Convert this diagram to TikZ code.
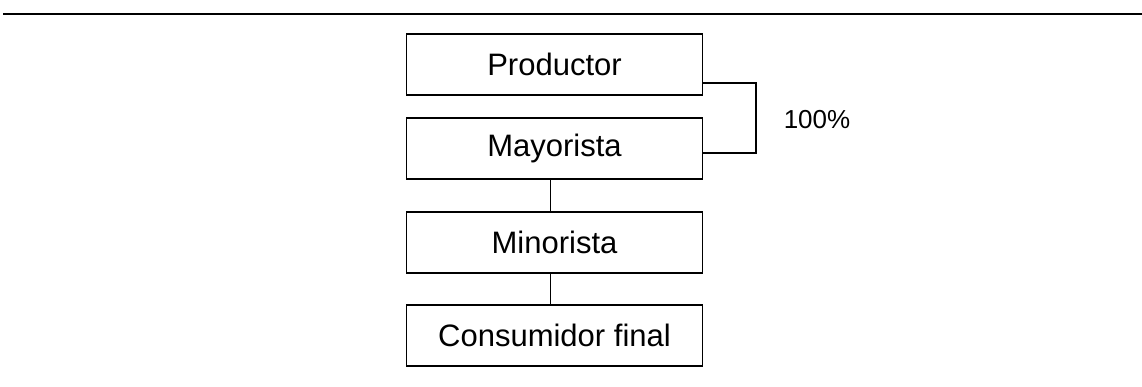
\documentclass[tikz,border=0pt]{standalone}
\usepackage{fontspec}
\setmainfont{Liberation Sans}

\tikzset{
  stage/.style={draw,line width=1.8pt,minimum width=296pt,minimum height=61pt,
    inner sep=0pt,font=\fontsize{31}{36}\selectfont},
  link/.style={line width=1.7pt}
}

\begin{document}
\begin{tikzpicture}[x=1pt,y=-1pt]
\useasboundingbox (0,0) rectangle (1142,387);

% ---- rule across the top ----
\coordinate (ruleL) at (3,14);
\coordinate (ruleR) at (1142,14);
\draw[line width=2.2pt] (ruleL) -- (ruleR);

% ---- the chain of stages ----
\node[stage] (prod) at (554.5,64.5)  {Productor};
\node[stage] (may)  at (554.5,148.5) {Mayorista};
\node[stage] (mino) at (554.5,242.5) {Minorista};
\node[stage] (cons) at (554.5,335.5) {Consumidor final};

\draw[link] ([xshift=-4pt]may.south)  -- ([xshift=-4pt]mino.north);
\draw[link] ([xshift=-4pt]mino.south) -- ([xshift=-4pt]cons.north);

% ---- bracket and share ----
\coordinate (brk) at (756,118);
\draw[link] ([yshift=-18.5pt]prod.east) -| (brk) |- ([yshift=-4.5pt]may.east);
\node[font=\fontsize{26}{30}\selectfont] (pct) at (817,120) {100\%};

\end{tikzpicture}
\end{document}
